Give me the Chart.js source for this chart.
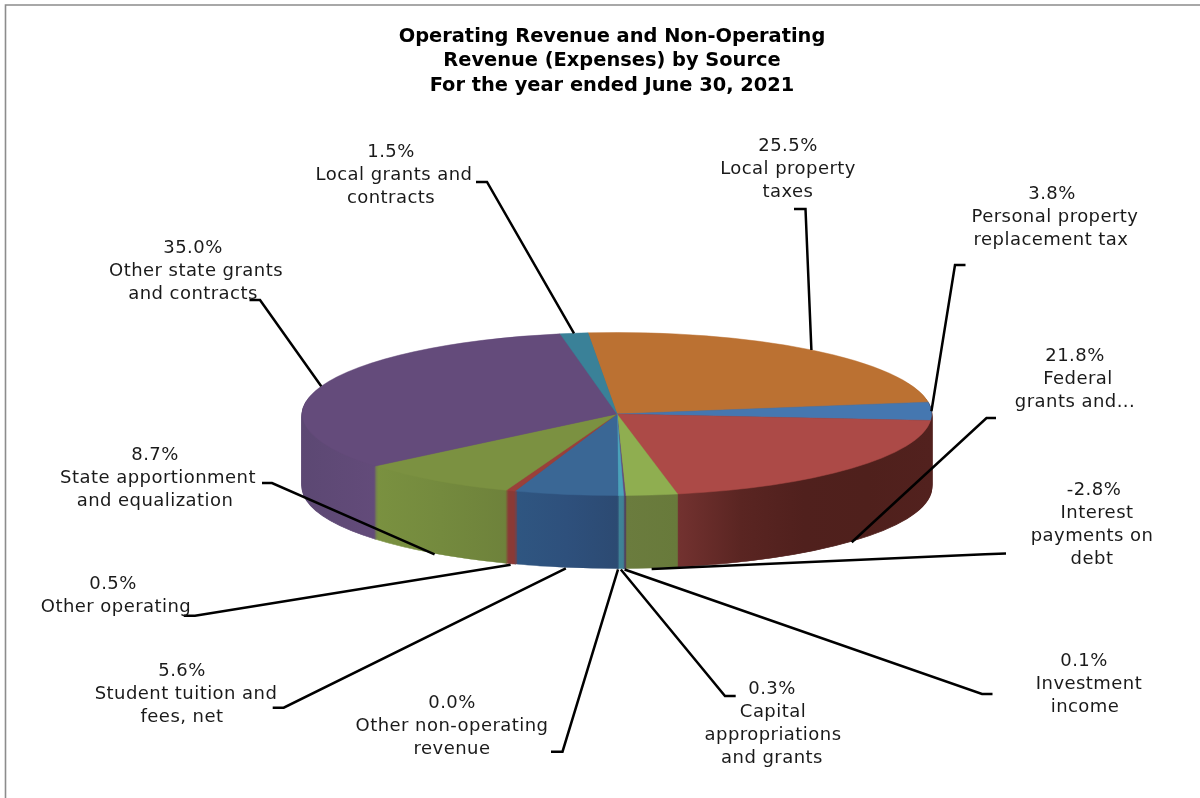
<!DOCTYPE html>
<html>
<head>
<meta charset="utf-8">
<style>html,body{margin:0;padding:0;background:#fff}canvas{display:block}</style>
<script src="https://cdn.jsdelivr.net/npm/chart.js@4/dist/chart.umd.js"></script>
</head>
<body>
<canvas id="c" width="1200" height="798"></canvas>
<script>
const titleLines = ['Operating Revenue and Non-Operating', 'Revenue (Expenses) by Source', 'For the year ended June 30, 2021'];
const categories = ['Local property taxes', 'Personal property replacement tax', 'Federal grants and...', 'Interest payments on debt', 'Investment income', 'Capital appropriations and grants', 'Other non-operating revenue', 'Student tuition and fees, net', 'Other operating', 'State apportionment and equalization', 'Other state grants and contracts', 'Local grants and contracts'];
const values = [25.5, 3.8, 21.8, -2.8, 0.1, 0.3, 0.0, 5.6, 0.5, 8.7, 35.0, 1.5];
const labelLines = [['Local property', 'taxes'], ['Personal property', 'replacement tax'], ['Federal', 'grants and...'], ['Interest', 'payments on', 'debt'], ['Investment', 'income'], ['Capital', 'appropriations', 'and grants'], ['Other non-operating', 'revenue'], ['Student tuition and', 'fees, net'], ['Other operating'], ['State apportionment', 'and equalization'], ['Other state grants', 'and contracts'], ['Local grants and', 'contracts']];
const topColors = ['#bb7132', '#4577b0', '#ac4a47', '#8fae50', '#644b7b', '#4aa2ba', '#bb7132', '#3a6795', '#9a403a', '#7b9141', '#644b7b', '#3a8198'];
const wallColors = [['#8a5024'], ['#52211e'], ['#733230', '#5a2522', '#50201d', '#4f201c', '#52211e'], ['#6b7c3e', '#687a3b'], ['#4e3a60'], ['#3f8296'], ['#8a5024'], ['#2f5681', '#2e507c', '#2c4a72'], ['#8a3a36'], ['#7a9140', '#748a3e', '#6e823b'], ['#5c4873', '#634b7a'], ['#2f6a7c']];
const labelLineX = [[788, 788, 788], [1052, 1055, 1051], [1075, 1078, 1075], [1094, 1097, 1092, 1092], [1084, 1089, 1085], [772, 773, 773, 772], [452, 452, 452], [182, 186, 182], [113, 116], [155, 158, 155], [193, 196, 193], [391, 394, 391]];
const labelFirstY = [146, 194, 356, 490, 661, 689, 703, 671, 584, 455, 248, 152];
const elbows = [[[805.5, 209], [794, 209]], [[955, 265], [965.5, 265]], [[986.5, 418], [996, 418]], [[985, 554.2], [1006, 553.5]], [[982, 694], [992.5, 694]], [[725, 696], [735.7, 696]], [[562.5, 751.7], [551, 751.7]], [[283.7, 707.7], [272.7, 707.7]], [[195, 615.7], [183.7, 615.7]], [[272, 483], [262, 483]], [[260, 300], [249.5, 300]], [[487, 182], [476, 182]]];

const PIE_SHIFT_X = 5, PIE_CENTER_Y = 414, SQUASH = 0.259, DEPTH = 73, LINE_H = 23;
const labelFont = '18px "DejaVu Sans"';

function pieTransform(ctx, el) {
  ctx.translate(el.x + PIE_SHIFT_X, PIE_CENTER_Y);
  ctx.scale(1, SQUASH);
  ctx.translate(-el.x, -el.y);
}

const pie3d = {
  id: 'pie3d',
  beforeDraw(chart) {
    const c = chart.ctx;
    c.save();
    c.strokeStyle = '#8c8c8c';
    c.lineWidth = 1.6;
    c.beginPath();
    c.moveTo(5.5, 798);
    c.lineTo(5.5, 5);
    c.lineTo(1200, 5);
    c.stroke();
    c.restore();
  },
  beforeDatasetDraw(chart, args) {
    const c = chart.ctx;
    const arcs = args.meta.data;
    const walls = arcs.map((el, i) => {
      let lo = Infinity, hi = -Infinity;
      for (let t = 0; t <= 60; t++) {
        const a = el.startAngle + (el.endAngle - el.startAngle) * t / 60;
        if (Math.sin(a) >= -0.02) {
          const x = el.x + el.outerRadius * Math.cos(a);
          lo = Math.min(lo, x); hi = Math.max(hi, x);
        }
      }
      if (!isFinite(lo) || hi - lo < 1) { lo = el.x - el.outerRadius; hi = el.x + el.outerRadius; }
      const g = c.createLinearGradient(lo, 0, hi, 0);
      const stops = wallColors[i];
      stops.forEach((s, k) => g.addColorStop(stops.length > 1 ? k / (stops.length - 1) : 0, s));
      return g;
    });
    for (let k = DEPTH; k >= 1; k--) {
      c.save();
      c.translate(0, k);
      pieTransform(c, arcs[0]);
      arcs.forEach((el, i) => {
        if (!values[i]) return;
        const saved = el.options;
        el.options = { ...saved, backgroundColor: walls[i], borderColor: walls[i], borderWidth: 1.6 };
        el.draw(c);
        el.options = saved;
      });
      c.restore();
    }
    c.save();
    pieTransform(c, arcs[0]);
  },
  afterDatasetDraw(chart) { chart.ctx.restore(); },
  afterDatasetsDraw(chart) {
    const c = chart.ctx;
    const arcs = chart.getDatasetMeta(0).data;
    c.save();
    c.lineJoin = 'miter';
    c.strokeStyle = '#000';
    c.lineWidth = 2.5;
    arcs.forEach((el, i) => {
      const mid = (el.startAngle + el.endAngle) / 2;
      const front = Math.sin(mid) > 0.15;
      const ax = el.x + PIE_SHIFT_X + el.outerRadius * Math.cos(mid);
      const ay = PIE_CENTER_Y + el.outerRadius * SQUASH * Math.sin(mid) + (front ? DEPTH + 1 : 0);
      c.beginPath();
      c.moveTo(ax, ay);
      c.lineTo(elbows[i][0][0], elbows[i][0][1]);
      c.lineTo(elbows[i][1][0], elbows[i][1][1]);
      c.stroke();
    });
    c.font = labelFont;
    c.letterSpacing = '0.45px';
    c.fillStyle = '#1a1a1a';
    c.textAlign = 'center';
    c.textBaseline = 'middle';
    categories.forEach((name, i) => {
      const lines = [values[i].toFixed(1) + '%', ...labelLines[i]];
      lines.forEach((t, k) => c.fillText(t, labelLineX[i][k], labelFirstY[i] + k * LINE_H));
    });
    c.restore();
  }
};

new Chart(document.getElementById('c'), {
  type: 'pie',
  data: {
    labels: categories,
    datasets: [{
      data: values.map(Math.abs),
      backgroundColor: topColors,
      borderColor: topColors,
      borderWidth: ctx => (ctx.raw > 0 ? 0.8 : 0),
      rotation: -5.3,
      clip: false
    }]
  },
  options: {
    responsive: false,
    devicePixelRatio: 1,
    animation: false,
    layout: { padding: { left: 297, right: 273, top: 25, bottom: 69 } },
    plugins: {
      legend: { display: false },
      tooltip: { enabled: false },
      title: {
        display: true,
        text: titleLines,
        color: '#000',
        align: 'center',
        padding: 0,
        font: { family: '"DejaVu Sans"', size: 19.4, weight: 'bold', lineHeight: 1.25 }
      }
    }
  },
  plugins: [pie3d]
});
</script>
</body>
</html>
